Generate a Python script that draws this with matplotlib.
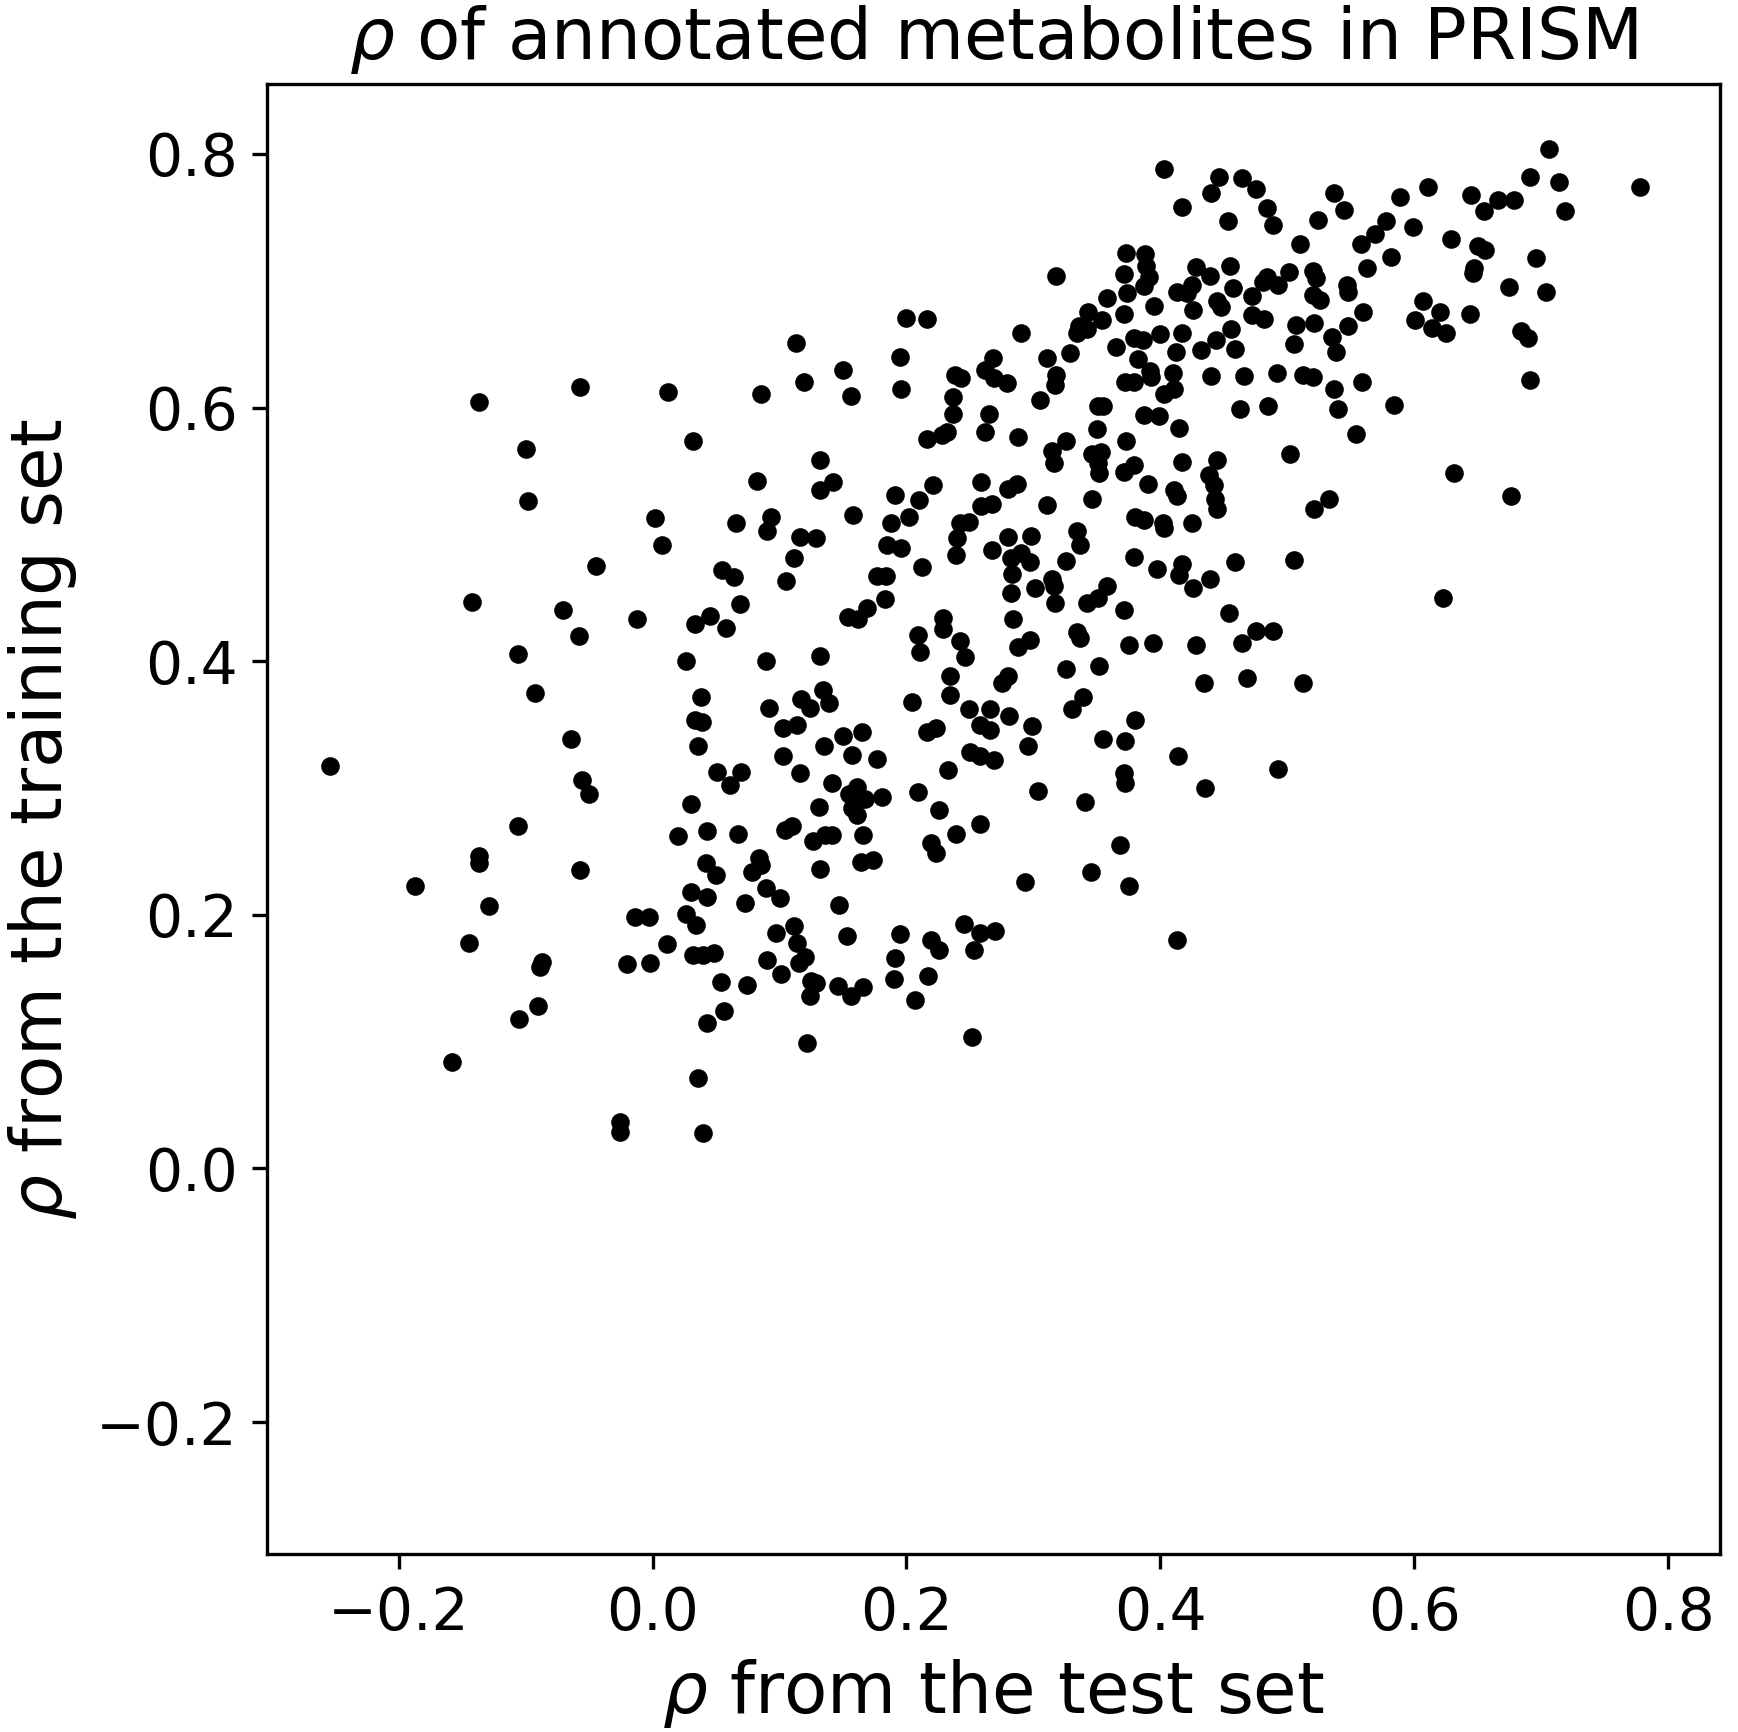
import numpy as np
import matplotlib
matplotlib.use("Agg")
import matplotlib.pyplot as plt

# rho on the test set (x) and on the training set (y), one entry per metabolite
test_rho = [
    -0.137, -0.057, -0.100,
    0.200, 0.216, 0.113, 0.150, 0.195, 0.119, 0.012, 0.085, 0.156, 0.196,
    0.032, 0.132, 0.238, 0.243, 0.237, 0.237, 0.232, 0.228, 0.216, 0.268,
    0.262, 0.269, 0.265, 0.262,
    0.403, 0.446, 0.464, 0.440, 0.475, 0.417, 0.484, 0.453, 0.489, 0.537,
    0.524, 0.510, 0.318, 0.373, 0.388, 0.371, 0.374, 0.389, 0.391, 0.387,
    0.358, 0.343, 0.354, 0.336, 0.334, 0.342, 0.371, 0.395, 0.428, 0.439,
    0.455, 0.425, 0.413, 0.421, 0.426, 0.457, 0.445, 0.448, 0.472, 0.481,
    0.484, 0.493, 0.501, 0.520, 0.523, 0.520, 0.526, 0.472, 0.482, 0.507,
    0.521, 0.505, 0.535, 0.538, 0.290, 0.311, 0.329, 0.318, 0.317, 0.279,
    0.305, 0.365, 0.379, 0.386, 0.382, 0.392, 0.393, 0.400, 0.417, 0.412,
    0.432, 0.444, 0.456, 0.459, 0.372, 0.379, 0.410, 0.411, 0.403, 0.440,
    0.466, 0.492, 0.512, 0.520, 0.537, 0.540, 0.351, 0.355, 0.350, 0.387,
    0.399, 0.415, 0.463, 0.485, 0.502, 0.288, 0.326, 0.315, 0.316, 0.373,
    0.346, 0.353, 0.351, 0.352, 0.379, 0.371, 0.417, 0.445, 0.438,
    0.706, 0.691, 0.714, 0.778, 0.611, 0.589, 0.645, 0.666, 0.679, 0.655,
    0.719, 0.545, 0.578, 0.569, 0.558, 0.599, 0.629, 0.650, 0.656, 0.647,
    0.646, 0.696, 0.563, 0.582, 0.547, 0.548, 0.675, 0.704, 0.607, 0.620,
    0.601, 0.614, 0.625, 0.644, 0.560, 0.548, 0.684, 0.690, 0.691, 0.559,
    0.584, 0.554, 0.631,
    -0.098, -0.045, -0.142, -0.071, -0.012, -0.058, -0.106, -0.093, -0.064,
    -0.056, -0.050, -0.254,
    0.082, 0.132, 0.142, 0.191, 0.221, 0.259, 0.210, 0.002, 0.007, 0.066,
    0.093, 0.090, 0.116, 0.129, 0.111, 0.105, 0.158, 0.188, 0.202, 0.185,
    0.196, 0.212, 0.177, 0.184, 0.183, 0.169, 0.154, 0.162, 0.259, 0.267,
    0.242, 0.249, 0.240, 0.239, 0.267, 0.055, 0.064, 0.069, 0.045, 0.033,
    0.058, 0.026, 0.089, 0.132, 0.038, 0.033, 0.039, 0.036, 0.092, 0.117,
    0.124, 0.134, 0.139, 0.103, 0.114, 0.103, 0.116, 0.135, 0.150, 0.165,
    0.157, 0.177, 0.141, 0.155, 0.161, 0.167, 0.157, 0.161, 0.181, 0.131,
    0.209, 0.226, 0.233, 0.030, 0.051, 0.070, 0.061, 0.204, 0.216, 0.223,
    0.229, 0.229, 0.209, 0.211, 0.242, 0.246, 0.234, 0.234, 0.249, 0.266,
    0.258, 0.266, 0.250, 0.258, 0.269,
    0.280, 0.287, 0.311, 0.346, 0.390, 0.411, 0.413, 0.442, 0.443, 0.445,
    0.521, 0.533, 0.380, 0.387, 0.402, 0.403, 0.425, 0.280, 0.298, 0.334,
    0.337, 0.326, 0.282, 0.290, 0.297, 0.283, 0.379, 0.397, 0.417, 0.415,
    0.439, 0.426, 0.459, 0.505, 0.282, 0.301, 0.315, 0.316, 0.317, 0.342,
    0.351, 0.358, 0.371, 0.284, 0.454, 0.475, 0.489, 0.464, 0.334, 0.337,
    0.297, 0.288, 0.375, 0.394, 0.428, 0.280, 0.275, 0.326, 0.352, 0.434,
    0.468, 0.512, 0.339, 0.330, 0.281, 0.299, 0.296, 0.380, 0.355, 0.372,
    0.414, 0.371, 0.372, 0.493, 0.304, 0.341, 0.435,
    0.676, 0.623,
    -0.106, -0.137, -0.137, -0.057, -0.187, -0.129, -0.145, -0.087, -0.089,
    -0.014, -0.003, -0.002, -0.020, -0.090, -0.105, -0.158, -0.026, -0.026,
    0.020, 0.043, 0.067, 0.104, 0.110, 0.126, 0.136, 0.141, 0.166, 0.219,
    0.223, 0.239, 0.258, 0.042, 0.050, 0.084, 0.078, 0.085, 0.132, 0.164,
    0.174, 0.030, 0.043, 0.089, 0.100, 0.073, 0.147, 0.026, 0.034, 0.011,
    0.032, 0.040, 0.048, 0.097, 0.111, 0.114, 0.120, 0.115, 0.090, 0.101,
    0.153, 0.054, 0.074, 0.125, 0.129, 0.124, 0.146, 0.156, 0.166, 0.195,
    0.191, 0.190, 0.219, 0.226, 0.217, 0.207, 0.245, 0.258, 0.270, 0.253,
    0.056, 0.043, 0.122, 0.252, 0.036, 0.040,
    0.368, 0.345, 0.375, 0.293, 0.413,
]

train_rho = [
    0.604, 0.616, 0.567,
    0.671, 0.670, 0.651, 0.630, 0.640, 0.620, 0.612, 0.611, 0.609, 0.615,
    0.574, 0.559, 0.626, 0.623, 0.608, 0.595, 0.581, 0.578, 0.575, 0.639,
    0.630, 0.623, 0.595, 0.581,
    0.788, 0.782, 0.781, 0.769, 0.772, 0.758, 0.757, 0.747, 0.744, 0.769,
    0.748, 0.729, 0.704, 0.722, 0.721, 0.705, 0.690, 0.712, 0.703, 0.696,
    0.686, 0.675, 0.669, 0.664, 0.659, 0.662, 0.674, 0.680, 0.711, 0.704,
    0.712, 0.697, 0.691, 0.690, 0.677, 0.694, 0.684, 0.679, 0.688, 0.699,
    0.703, 0.697, 0.707, 0.708, 0.702, 0.689, 0.685, 0.673, 0.670, 0.665,
    0.667, 0.650, 0.656, 0.644, 0.659, 0.639, 0.643, 0.626, 0.618, 0.619,
    0.606, 0.648, 0.655, 0.653, 0.638, 0.629, 0.624, 0.658, 0.659, 0.644,
    0.645, 0.653, 0.662, 0.646, 0.620, 0.620, 0.627, 0.615, 0.611, 0.625,
    0.625, 0.627, 0.626, 0.624, 0.615, 0.599, 0.601, 0.601, 0.583, 0.594,
    0.593, 0.584, 0.599, 0.601, 0.563, 0.577, 0.574, 0.566, 0.556, 0.574,
    0.563, 0.565, 0.556, 0.548, 0.555, 0.549, 0.557, 0.559, 0.547,
    0.804, 0.782, 0.778, 0.774, 0.774, 0.766, 0.768, 0.764, 0.764, 0.755,
    0.755, 0.756, 0.747, 0.737, 0.729, 0.742, 0.733, 0.727, 0.724, 0.710,
    0.706, 0.718, 0.710, 0.719, 0.697, 0.691, 0.695, 0.691, 0.684, 0.675,
    0.669, 0.663, 0.659, 0.674, 0.675, 0.664, 0.660, 0.655, 0.622, 0.620,
    0.602, 0.579, 0.548,
    0.526, 0.475, 0.447, 0.440, 0.433, 0.420, 0.406, 0.375, 0.339,
    0.306, 0.295, 0.317,
    0.542, 0.535, 0.541, 0.531, 0.539, 0.541, 0.527, 0.513, 0.492, 0.509,
    0.514, 0.503, 0.498, 0.497, 0.481, 0.463, 0.515, 0.509, 0.514, 0.492,
    0.489, 0.474, 0.467, 0.467, 0.449, 0.442, 0.435, 0.433, 0.522, 0.524,
    0.509, 0.510, 0.497, 0.484, 0.488, 0.472, 0.466, 0.445, 0.436, 0.429,
    0.426, 0.400, 0.400, 0.404, 0.372, 0.354, 0.352, 0.333, 0.363, 0.370,
    0.363, 0.377, 0.367, 0.347, 0.350, 0.325, 0.312, 0.333, 0.341, 0.344,
    0.326, 0.323, 0.304, 0.295, 0.301, 0.291, 0.284, 0.279, 0.293, 0.285,
    0.297, 0.283, 0.314, 0.287, 0.313, 0.313, 0.302, 0.368, 0.344, 0.347,
    0.434, 0.425, 0.421, 0.407, 0.416, 0.403, 0.388, 0.373, 0.362, 0.362,
    0.350, 0.346, 0.328, 0.325, 0.322,
    0.536, 0.540, 0.523, 0.528, 0.540, 0.535, 0.530, 0.539, 0.528, 0.520,
    0.520, 0.528, 0.514, 0.511, 0.509, 0.505, 0.509, 0.498, 0.499, 0.503,
    0.492, 0.479, 0.481, 0.485, 0.478, 0.469, 0.482, 0.473, 0.477, 0.468,
    0.465, 0.458, 0.478, 0.480, 0.454, 0.458, 0.465, 0.459, 0.446, 0.446,
    0.450, 0.459, 0.440, 0.433, 0.438, 0.424, 0.424, 0.414, 0.423, 0.418,
    0.417, 0.411, 0.413, 0.414, 0.413, 0.388, 0.383, 0.394, 0.396, 0.383,
    0.387, 0.383, 0.372, 0.362, 0.357, 0.349, 0.333, 0.354, 0.339, 0.337,
    0.325, 0.312, 0.304, 0.315, 0.298, 0.289, 0.300,
    0.530, 0.450,
    0.270, 0.246, 0.241, 0.235, 0.223, 0.207, 0.178, 0.163, 0.159,
    0.198, 0.198, 0.162, 0.161, 0.128, 0.118, 0.084, 0.037, 0.029,
    0.262, 0.266, 0.264, 0.267, 0.270, 0.258, 0.263, 0.263, 0.263, 0.257,
    0.249, 0.264, 0.272, 0.241, 0.231, 0.245, 0.234, 0.239, 0.236, 0.242,
    0.243, 0.218, 0.214, 0.221, 0.213, 0.209, 0.208, 0.201, 0.192, 0.177,
    0.168, 0.168, 0.170, 0.186, 0.191, 0.178, 0.167, 0.162, 0.164, 0.153,
    0.183, 0.147, 0.145, 0.148, 0.146, 0.136, 0.144, 0.136, 0.143, 0.185,
    0.166, 0.149, 0.180, 0.172, 0.152, 0.133, 0.193, 0.186, 0.187, 0.172,
    0.124, 0.115, 0.099, 0.104, 0.071, 0.028,
    0.255, 0.234, 0.223, 0.226, 0.180,
]

ticks = [-0.2, 0.0, 0.2, 0.4, 0.6, 0.8]

fig = plt.figure(figsize=(1738 / 300, 1732 / 300), dpi=300)
ax = fig.add_axes([0.1535, 0.1028, 0.8362, 0.8486])

ax.scatter(test_rho, train_rho, s=20, c='black', linewidths=0)

ax.set_xlim(-0.304, 0.841)
ax.set_ylim(-0.304, 0.855)
ax.set_xticks(ticks)
ax.set_yticks(ticks)
ax.tick_params(labelsize=14)
ax.tick_params(axis='x', pad=4)

ax.set_title(r'$\rho$ of annotated metabolites in PRISM', fontsize=17)
ax.set_xlabel(r'$\rho$ from the test set', fontsize=17, labelpad=3.5)
ax.set_ylabel(r'$\rho$ from the training set', fontsize=17)

fig.savefig('out.png', dpi=300)
